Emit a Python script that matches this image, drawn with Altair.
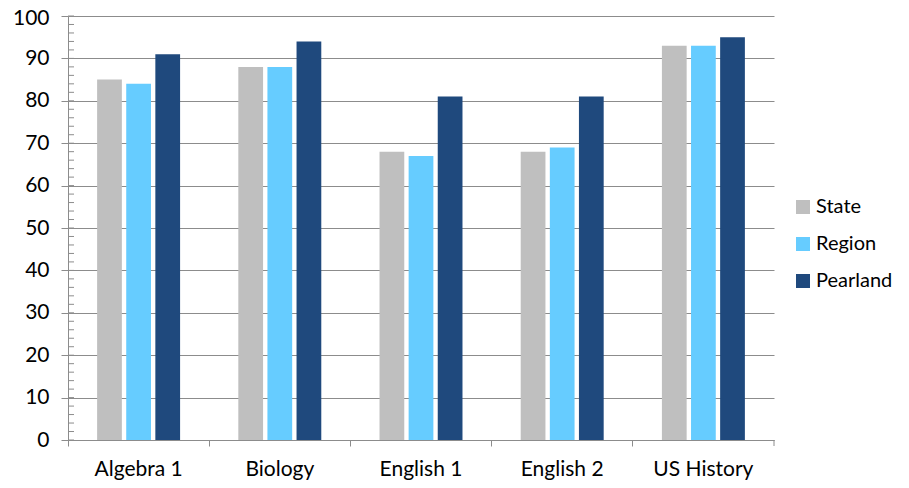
import altair as alt
import pandas as pd

subjects = ["Algebra 1", "Biology", "English 1", "English 2", "US History"]
series = ["State", "Region", "Pearland"]
state = [85, 88, 68, 68, 93]
region = [84, 88, 67, 69, 93]
pearland = [91, 94, 81, 81, 95]
colors = ["#BFBFBF", "#66CCFF", "#1F497D"]
minor_ticks = list(range(0, 101, 2))

rows = []
for i, s in enumerate(subjects):
    rows.append({"subject": s, "series": "State", "value": state[i]})
    rows.append({"subject": s, "series": "Region", "value": region[i]})
    rows.append({"subject": s, "series": "Pearland", "value": pearland[i]})
df = pd.DataFrame(rows)
minor_df = pd.DataFrame({"v": minor_ticks})

FONT = "Lato"
GRID = "#8C8C8C"
FS = 21

yscale = alt.Scale(domain=[0, 100], nice=False)

bars = alt.Chart(df).mark_bar().encode(
    x=alt.X("subject:N", sort=subjects, title=None,
            scale=alt.Scale(paddingInner=0, paddingOuter=0),
            axis=alt.Axis(labelAngle=0, labelFontSize=FS, labelFont=FONT, labelColor="#000000",
                          labelPadding=12, tickColor=GRID, tickSize=6, bandPosition=0,
                          domainColor=GRID, grid=False)),
    xOffset=alt.XOffset("series:N", sort=series,
                        scale=alt.Scale(paddingInner=0.15, paddingOuter=1)),
    y=alt.Y("value:Q", scale=yscale, title=None,
            axis=alt.Axis(values=list(range(0, 101, 10)), labelFontSize=FS, labelFont=FONT,
                          labelColor="#000000", labelPadding=12, tickSize=7, tickColor=GRID,
                          labelOffset={"condition": {"test": "datum.value == 100", "value": 2},
                                       "value": 0},
                          domainColor=GRID, gridColor=GRID, grid=True)),
    color=alt.Color("series:N", sort=series, title=None,
                    scale=alt.Scale(domain=series, range=colors),
                    legend=alt.Legend(orient="none", legendX=725, legendY=181,
                                      symbolType="square", symbolSize=196,
                                      symbolStrokeWidth=0, labelFontSize=20, labelFont=FONT,
                                      labelColor="#000000", labelOffset=3, rowPadding=17)),
)

minor = alt.Chart(minor_df).mark_rule(color=GRID, strokeWidth=1).encode(
    y=alt.Y("v:Q", scale=yscale),
    x=alt.value(0),
    x2=alt.value(6),
)

end_tick = alt.Chart(minor_df.head(1)).mark_rule(color=GRID, strokeWidth=1).encode(
    x=alt.value(706), y=alt.value(424), y2=alt.value(430)
)

chart = alt.layer(bars, minor, end_tick).properties(
    width=706, height=424,
    autosize=alt.AutoSizeParams(type="none"),
    padding={"left": 60, "top": 8, "right": 127, "bottom": 40},
).configure_view(stroke=None).configure_axis(domainWidth=1)

chart.save("out.html", embed_options={"renderer": "svg", "actions": False})
